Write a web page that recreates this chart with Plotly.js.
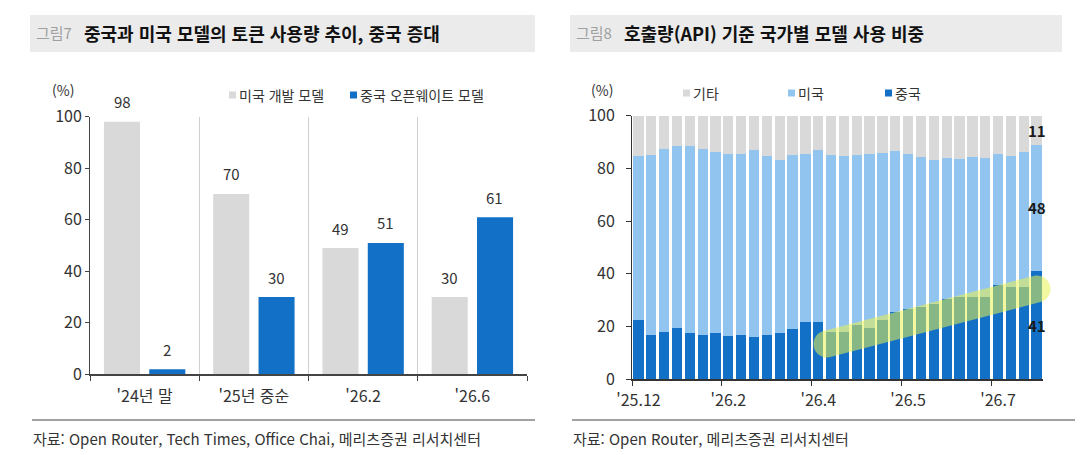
<!DOCTYPE html>
<html lang="ko">
<head>
<meta charset="utf-8">
<script src="https://cdn.plot.ly/plotly-3.0.1.min.js"></script>
<style>
  body { margin: 0; background: #fff; }
  .panel { position: absolute; top: 0; width: 540px; height: 455px; }
</style>
</head>
<body>
<div id="fig7" class="panel" style="left:0"></div>
<div id="fig8" class="panel" style="left:540px"></div>
<script>
const W = 540, H = 455;
const FONT = '"Noto Sans CJK KR", "Noto Sans", sans-serif';

// 그림7: 중국과 미국 모델의 토큰 사용량
const periods7 = ["'24년 말", "'25년 중순", "'26.2", "'26.6"];
const usModels7 = [98, 70, 49, 30];
const cnModels7 = [2, 30, 51, 61];

// 그림8: 호출량(API) 기준 국가별 모델 사용 비중 (주간, 32개)
const china8 = [22.4, 16.7, 17.8, 19.3, 17.4, 16.7, 17.4, 16.3, 16.9, 16.0, 16.9, 17.6, 19.1, 21.8, 21.8, 17.8,
                17.8, 20.5, 19.6, 22.6, 25.5, 26.5, 27.4, 28.6, 30.5, 31.4, 31.4, 31.4, 35.8, 35.1, 35.1, 41];
const us8 = [62.3, 68.3, 69.7, 69.3, 71.1, 70.6, 68.7, 69.0, 68.4, 70.9, 67.7, 65.5, 65.9, 63.5, 65.1, 67.3,
             67.0, 64.6, 66.0, 63.3, 61.1, 58.9, 57.1, 54.6, 53.6, 52.0, 53.1, 52.4, 49.6, 49.7, 51.0, 48];
const other8 = [15.3, 15.0, 12.5, 11.4, 11.5, 12.7, 13.9, 14.7, 14.7, 13.1, 15.4, 16.9, 15.0, 14.7, 13.1, 14.9,
                15.2, 14.9, 14.4, 14.1, 13.4, 14.6, 15.5, 16.8, 15.9, 16.6, 15.5, 16.2, 14.6, 15.2, 13.9, 11];
const tickAt8 = [0, 7, 14, 21, 28];
const tickLabels8 = ["'25.12", "'26.2", "'26.4", "'26.5", "'26.7"];

const GRAY = '#d9d9d9', BLUE = '#1270c6', LIGHT = '#92c4f0';

// pixel -> paper
const px = (x) => x / W;
const py = (y) => 1 - y / H;

function text(x, y, str, opts = {}) {
    return Object.assign({
        xref: 'paper', yref: 'paper', x: px(x), y: py(y), text: str,
        showarrow: false, xanchor: 'left', yanchor: 'middle',
        font: { family: FONT, size: 14, color: '#333' }
    }, opts);
}

function square(x, y, color) {
    return { type: 'rect', xref: 'paper', yref: 'paper',
        x0: px(x), x1: px(x + 7), y0: py(y + 3.5), y1: py(y - 3.5),
        fillcolor: color, line: { width: 0 } };
}

// title bar, source line and source text
function frame(num, title, source, boxRight) {
    return {
        shapes: [
            { type: 'rect', xref: 'paper', yref: 'paper', layer: 'below',
              x0: px(30), x1: px(boxRight), y0: py(52), y1: py(15),
              fillcolor: '#ebebeb', line: { width: 0 } },
            { type: 'line', xref: 'paper', yref: 'paper',
              x0: px(32), x1: px(535), y0: py(420), y1: py(420),
              line: { color: '#444', width: 1 } }
        ],
        annotations: [
            text(34, 33, num, { font: { family: FONT, size: 15, color: '#a0a0a0' } }),
            text(82, 33, title, { font: { family: FONT, size: 18, color: '#111', weight: 700 } }),
            text(31, 438, source, { font: { family: FONT, size: 15, color: '#333' } })
        ]
    };
}

// rounded highlighter stroke between two points (pixels), as a paper path
function capsule(x1, y1, x2, y2, r) {
    const len = Math.hypot(x2 - x1, y2 - y1);
    const ux = (x2 - x1) / len, uy = (y2 - y1) / len;
    const nx = -uy, ny = ux, k = 0.5523 * r;
    const p = (x, y) => `${px(x).toFixed(5)},${py(y).toFixed(5)}`;
    const A = [x1 - nx * r, y1 - ny * r], B = [x2 - nx * r, y2 - ny * r];
    const C = [x2 + nx * r, y2 + ny * r], D = [x1 + nx * r, y1 + ny * r];
    const E = [x2 + ux * r, y2 + uy * r], F = [x1 - ux * r, y1 - uy * r];
    return `M${p(...A)} L${p(...B)}` +
        ` C${p(B[0] + ux * k, B[1] + uy * k)} ${p(E[0] - nx * k, E[1] - ny * k)} ${p(...E)}` +
        ` C${p(E[0] + nx * k, E[1] + ny * k)} ${p(C[0] + ux * k, C[1] + uy * k)} ${p(...C)}` +
        ` L${p(...D)}` +
        ` C${p(D[0] - ux * k, D[1] - uy * k)} ${p(F[0] + nx * k, F[1] + ny * k)} ${p(...F)}` +
        ` C${p(F[0] - nx * k, F[1] - ny * k)} ${p(A[0] - ux * k, A[1] - uy * k)} ${p(...A)} Z`;
}

const config = { displayModeBar: false, staticPlot: true };

// ---------- 그림7 ----------
const f7 = frame('그림7', '중국과 미국 모델의 토큰 사용량 추이, 중국 증대',
    '자료: Open Router, Tech Times, Office Chai, 메리츠증권 리서치센터', 535);

const traces7 = [
    { type: 'bar', x: periods7, y: usModels7, name: '미국 개발 모델',
      marker: { color: GRAY, line: { width: 0 } }, hoverinfo: 'skip' },
    { type: 'bar', x: periods7, y: cnModels7, name: '중국 오픈웨이트 모델',
      marker: { color: BLUE, line: { width: 0 } }, hoverinfo: 'skip' }
];

const valueLabels7 = [];
periods7.forEach((p, i) => {
    valueLabels7.push({ xref: 'x', yref: 'y', x: p, y: usModels7[i], text: String(usModels7[i]),
        showarrow: false, xshift: -22.6, yshift: 20, font: { family: FONT, size: 15, color: '#333' } });
    valueLabels7.push({ xref: 'x', yref: 'y', x: p, y: cnModels7[i], text: String(cnModels7[i]),
        showarrow: false, xshift: 22.6, yshift: 20, font: { family: FONT, size: 15, color: '#333' } });
});

const layout7 = {
    width: W, height: H,
    margin: { l: 0, r: 0, t: 0, b: 0 },
    paper_bgcolor: '#fff', plot_bgcolor: '#fff',
    font: { family: FONT, size: 16, color: '#333' },
    showlegend: false,
    barmode: 'group', bargap: 0.17, bargroupgap: 0.205,
    xaxis: {
        domain: [px(90), px(527)],
        type: 'category', tickson: 'boundaries',
        ticks: 'outside', ticklen: 5, tickcolor: '#444',
        showgrid: true, gridcolor: '#cfcfcf', gridwidth: 1,
        showline: true, linecolor: '#444', linewidth: 1.5,
        ticklabelstandoff: 7, fixedrange: true
    },
    yaxis: {
        domain: [py(374.3), py(116.7)],
        range: [0, 100], dtick: 20,
        showgrid: false, zeroline: false,
        showline: true, linecolor: '#444', linewidth: 1,
        ticks: 'outside', ticklen: 4, tickcolor: '#444', fixedrange: true
    },
    shapes: f7.shapes.concat([square(229, 95, GRAY), square(350, 95, BLUE)]),
    annotations: f7.annotations.concat([
        text(63, 90, '(%)', { xanchor: 'center' }),
        text(237, 95, '미국 개발 모델'),
        text(358, 95, '중국 오픈웨이트 모델')
    ], valueLabels7)
};

Plotly.newPlot('fig7', traces7, layout7, config);

// ---------- 그림8 ----------
const f8 = frame('그림8', '호출량(API) 기준 국가별 모델 사용 비중',
    '자료: Open Router, 메리츠증권 리서치센터', 522);
f8.shapes[1].x1 = px(535);

const barIndex = china8.map((_, i) => i);
const traces8 = [
    { type: 'bar', x: barIndex, y: china8, name: '중국', marker: { color: BLUE, line: { width: 0 } }, hoverinfo: 'skip' },
    { type: 'bar', x: barIndex, y: us8, name: '미국', marker: { color: LIGHT, line: { width: 0 } }, hoverinfo: 'skip' },
    { type: 'bar', x: barIndex, y: other8, name: '기타', marker: { color: GRAY, line: { width: 0 } }, hoverinfo: 'skip' }
];

// labels for the last bar's segments
const last = china8.length - 1;
const cLast = china8[last], uLast = us8[last], oLast = other8[last];
const endLabels8 = [
    [cLast / 2, cLast], [cLast + uLast / 2, uLast], [cLast + uLast + oLast / 2, oLast]
].map(([y, v]) => ({
    xref: 'x', yref: 'y', x: last, y: y, text: String(Math.round(v)), showarrow: false,
    font: { family: FONT, size: 15, color: '#1a1a1a', weight: 700 }
}));

const layout8 = {
    width: W, height: H,
    margin: { l: 0, r: 0, t: 0, b: 0 },
    paper_bgcolor: '#fff', plot_bgcolor: '#fff',
    font: { family: FONT, size: 16, color: '#333' },
    showlegend: false,
    barmode: 'stack', bargap: 0.2,
    xaxis: {
        domain: [px(92), px(503)], range: [-0.5, last + 0.5],
        tickmode: 'array', tickvals: tickAt8, ticktext: tickLabels8, ticks: '',
        minor: { tickmode: 'array', tickvals: tickAt8.map(v => v - 0.5), ticks: 'outside',
                 ticklen: 5, tickcolor: '#333', showgrid: false },
        showgrid: false, zeroline: false,
        showline: true, linecolor: '#333', linewidth: 1.5,
        ticklabelstandoff: 6, fixedrange: true
    },
    yaxis: {
        domain: [py(379.3), py(115.7)],
        range: [0, 100], dtick: 20,
        showgrid: false, zeroline: false,
        showline: true, linecolor: '#333', linewidth: 1,
        ticks: 'outside', ticklen: 5, tickcolor: '#333',
        ticklabelstandoff: 8, fixedrange: true
    },
    shapes: f8.shapes.concat([
        square(143, 93, GRAY), square(248, 93, LIGHT), square(345, 93, BLUE),
        { type: 'path', xref: 'paper', yref: 'paper', layer: 'above',
          path: capsule(287, 344, 497, 289, 13.5),
          fillcolor: 'rgba(232,242,80,0.55)', line: { width: 0 } }
    ]),
    annotations: f8.annotations.concat([
        text(62, 90, '(%)', { xanchor: 'center' }),
        text(151, 93, '기타'),
        text(256, 93, '미국'),
        text(353, 93, '중국')
    ], endLabels8)
};

Plotly.newPlot('fig8', traces8, layout8, config);
</script>
</body>
</html>
